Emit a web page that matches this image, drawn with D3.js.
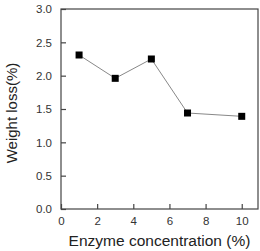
<!DOCTYPE html>
<html>
<head>
<meta charset="utf-8">
<script src="https://cdn.jsdelivr.net/npm/d3@7"></script>
<style>
  body { margin: 0; background: #fff; }
  svg text { font-family: "Liberation Sans", Arial, sans-serif; }
</style>
</head>
<body>
<div id="chart"></div>
<script>
    // data
    var concentration = [1, 3, 5, 7, 10];
    var weightLoss = [2.31, 1.96, 2.25, 1.44, 1.39];
    var xTicks = [0, 2, 4, 6, 8, 10];
    var yTicks = [0.0, 0.5, 1.0, 1.5, 2.0, 2.5, 3.0];

    var width = 260, height = 251;
    var margin = { top: 9, right: 2, bottom: 42, left: 61 };
    var innerW = width - margin.left - margin.right;
    var innerH = height - margin.top - margin.bottom;

    var svg = d3.select('#chart').append('svg')
        .attr('width', width)
        .attr('height', height);

    var g = svg.append('g')
        .attr('transform', 'translate(' + margin.left + ',' + margin.top + ')');

    var x = d3.scaleLinear().domain([0, 10.9]).range([0, innerW]);
    var y = d3.scaleLinear().domain([0, 3]).range([innerH, 0]);

    // frame
    g.append('rect')
        .attr('width', innerW)
        .attr('height', innerH)
        .attr('fill', 'none')
        .attr('stroke', '#444')
        .attr('stroke-width', 1.2);

    // x axis, ticks pointing inward
    var xAxis = g.append('g')
        .attr('transform', 'translate(0,' + innerH + ')')
        .call(d3.axisBottom(x).tickValues(xTicks).tickSizeInner(-5).tickSizeOuter(0)
            .tickPadding(8).tickFormat(d3.format('d')));
    xAxis.select('.domain').remove();
    xAxis.selectAll('line').attr('stroke', '#444').attr('stroke-width', 1.2);
    xAxis.selectAll('text').attr('font-size', 11.5).attr('fill', '#333');

    // y axis
    var yAxis = g.append('g')
        .call(d3.axisLeft(y).tickValues(yTicks).tickSizeInner(-5).tickSizeOuter(0)
            .tickPadding(9).tickFormat(d3.format('.1f')));
    yAxis.select('.domain').remove();
    yAxis.selectAll('line').attr('stroke', '#444').attr('stroke-width', 1.2);
    yAxis.selectAll('text').attr('font-size', 11.5).attr('fill', '#333');

    // series
    var pts = concentration.map(function (c, i) { return { x: c, y: weightLoss[i] }; });

    g.append('path')
        .datum(pts)
        .attr('fill', 'none')
        .attr('stroke', '#888')
        .attr('stroke-width', 1)
        .attr('d', d3.line()
            .x(function (d) { return x(d.x); })
            .y(function (d) { return y(d.y); }));

    var sq = 7;
    g.selectAll('.marker')
        .data(pts).enter()
        .append('rect')
        .attr('class', 'marker')
        .attr('x', function (d) { return x(d.x) - sq / 2; })
        .attr('y', function (d) { return y(d.y) - sq / 2; })
        .attr('width', sq)
        .attr('height', sq)
        .attr('fill', '#000');

    // axis titles
    svg.append('text')
        .attr('x', margin.left + innerW / 2)
        .attr('y', 246)
        .attr('text-anchor', 'middle')
        .attr('font-size', 15.5)
        .attr('fill', '#222')
        .text('Enzyme concentration (%)');

    svg.append('text')
        .attr('transform', 'translate(17,113) rotate(-90)')
        .attr('text-anchor', 'middle')
        .attr('font-size', 15)
        .attr('fill', '#222')
        .text('Weight loss(%)');
</script>
</body>
</html>
